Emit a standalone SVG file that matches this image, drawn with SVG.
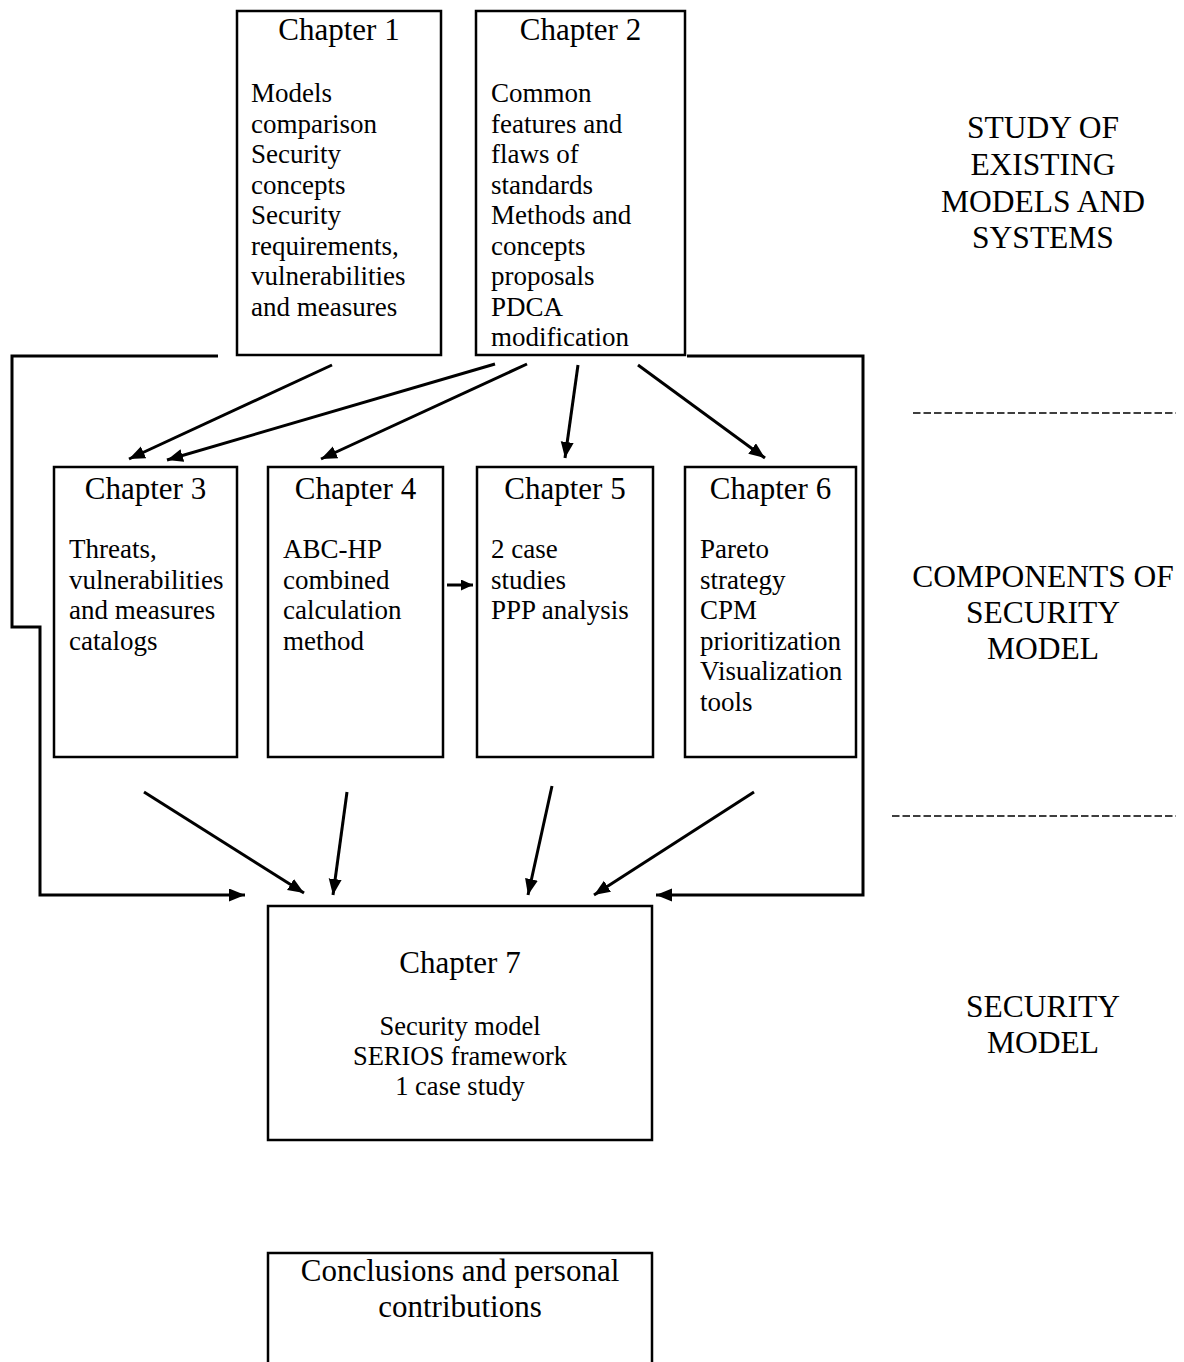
<svg xmlns="http://www.w3.org/2000/svg" width="1184" height="1362" viewBox="0 0 1184 1362">
<style>
.box{fill:#fff;stroke:#000;stroke-width:2.5}
.h{font-family:"Liberation Serif","Times New Roman",serif;font-size:31px;text-anchor:middle;fill:#000}
.b{font-family:"Liberation Serif","Times New Roman",serif;font-size:27px;fill:#000}
.c{font-family:"Liberation Serif","Times New Roman",serif;font-size:26.5px;text-anchor:middle;fill:#000}
.lbl{font-family:"Liberation Serif","Times New Roman",serif;font-size:31.5px;text-anchor:middle;fill:#000}
.con{fill:none;stroke:#000;stroke-width:3}
.dash{stroke:#000;stroke-width:1.5;stroke-dasharray:7.5 3}
</style>
<defs>
<marker id="ah" markerUnits="userSpaceOnUse" markerWidth="18" markerHeight="14" refX="16" refY="6.5" orient="auto">
<path d="M0,0 L16,6.5 L0,13 z" fill="#000"/>
</marker>
<marker id="ahs" markerUnits="userSpaceOnUse" markerWidth="14" markerHeight="12" refX="12" refY="5.5" orient="auto">
<path d="M0,0 L12,5.5 L0,11 z" fill="#000"/>
</marker>
</defs>
<rect width="1184" height="1362" fill="#fff"/>

<g id="connectors">
<path class="con" d="M218,356 H12 V627 H40 V895 H245" marker-end="url(#ah)"/>
<path class="con" d="M687,356 H863 V895 H656" marker-end="url(#ah)"/>
<line class="con" x1="332" y1="365" x2="129" y2="459" marker-end="url(#ah)"/>
<line class="con" x1="495" y1="364" x2="167" y2="460" marker-end="url(#ah)"/>
<line class="con" x1="527" y1="364" x2="321" y2="459" marker-end="url(#ah)"/>
<line class="con" x1="578" y1="365" x2="565" y2="458" marker-end="url(#ah)"/>
<line class="con" x1="638" y1="365" x2="765" y2="458" marker-end="url(#ah)"/>
<line class="con" x1="447" y1="585" x2="473" y2="585" marker-end="url(#ahs)"/>
<line class="con" x1="144" y1="792" x2="304" y2="893" marker-end="url(#ah)"/>
<line class="con" x1="347" y1="792" x2="333" y2="895" marker-end="url(#ah)"/>
<line class="con" x1="552" y1="786" x2="528" y2="895" marker-end="url(#ah)"/>
<line class="con" x1="754" y1="792" x2="594" y2="895" marker-end="url(#ah)"/>
</g>

<g id="ch1">
<rect class="box" x="237" y="11" width="204" height="344"/>
<text class="h" x="339" y="40">Chapter 1</text>
<text class="b"><tspan x="251" y="102">Models</tspan><tspan x="251" y="132.5">comparison</tspan><tspan x="251" y="163">Security</tspan><tspan x="251" y="193.5">concepts</tspan><tspan x="251" y="224">Security</tspan><tspan x="251" y="254.5">requirements,</tspan><tspan x="251" y="285">vulnerabilities</tspan><tspan x="251" y="315.5">and measures</tspan></text>
</g>

<g id="ch2">
<rect class="box" x="476" y="11" width="209" height="344"/>
<text class="h" x="580.5" y="40">Chapter 2</text>
<text class="b"><tspan x="491" y="102">Common</tspan><tspan x="491" y="132.5">features and</tspan><tspan x="491" y="163">flaws of</tspan><tspan x="491" y="193.5">standards</tspan><tspan x="491" y="224">Methods and</tspan><tspan x="491" y="254.5">concepts</tspan><tspan x="491" y="285">proposals</tspan><tspan x="491" y="315.5">PDCA</tspan><tspan x="491" y="346">modification</tspan></text>
</g>

<g id="ch3">
<rect class="box" x="54" y="467" width="183" height="290"/>
<text class="h" x="145.5" y="499">Chapter 3</text>
<text class="b"><tspan x="69" y="558">Threats,</tspan><tspan x="69" y="588.5">vulnerabilities</tspan><tspan x="69" y="619">and measures</tspan><tspan x="69" y="649.5">catalogs</tspan></text>
</g>

<g id="ch4">
<rect class="box" x="268" y="467" width="175" height="290"/>
<text class="h" x="355.5" y="499">Chapter 4</text>
<text class="b"><tspan x="283" y="558">ABC-HP</tspan><tspan x="283" y="588.5">combined</tspan><tspan x="283" y="619">calculation</tspan><tspan x="283" y="649.5">method</tspan></text>
</g>

<g id="ch5">
<rect class="box" x="477" y="467" width="176" height="290"/>
<text class="h" x="565" y="499">Chapter 5</text>
<text class="b"><tspan x="491" y="558">2 case</tspan><tspan x="491" y="588.5">studies</tspan><tspan x="491" y="619">PPP analysis</tspan></text>
</g>

<g id="ch6">
<rect class="box" x="685" y="467" width="171" height="290"/>
<text class="h" x="770.5" y="499">Chapter 6</text>
<text class="b"><tspan x="700" y="558">Pareto</tspan><tspan x="700" y="588.5">strategy</tspan><tspan x="700" y="619">CPM</tspan><tspan x="700" y="649.5">prioritization</tspan><tspan x="700" y="680">Visualization</tspan><tspan x="700" y="710.5">tools</tspan></text>
</g>

<g id="ch7">
<rect class="box" x="268" y="906" width="384" height="234"/>
<text class="h" x="460" y="973">Chapter 7</text>
<text class="c"><tspan x="460" y="1035">Security model</tspan><tspan x="460" y="1065">SERIOS framework</tspan><tspan x="460" y="1095">1 case study</tspan></text>
</g>

<g id="conclusions">
<path class="box" d="M268,1372 V1253 H652 V1372" fill="none"/>
<text class="h"><tspan x="460" y="1281">Conclusions and personal</tspan><tspan x="460" y="1317">contributions</tspan></text>
</g>

<g id="labels">
<text class="lbl"><tspan x="1043" y="138">STUDY OF</tspan><tspan x="1043" y="175">EXISTING</tspan><tspan x="1043" y="212">MODELS AND</tspan><tspan x="1043" y="248">SYSTEMS</tspan></text>
<line class="dash" x1="913" y1="413" x2="1176" y2="413"/>
<text class="lbl"><tspan x="1043" y="587">COMPONENTS OF</tspan><tspan x="1043" y="623">SECURITY</tspan><tspan x="1043" y="659">MODEL</tspan></text>
<line class="dash" x1="892" y1="816" x2="1176" y2="816"/>
<text class="lbl"><tspan x="1043" y="1017">SECURITY</tspan><tspan x="1043" y="1053">MODEL</tspan></text>
</g>
</svg>
